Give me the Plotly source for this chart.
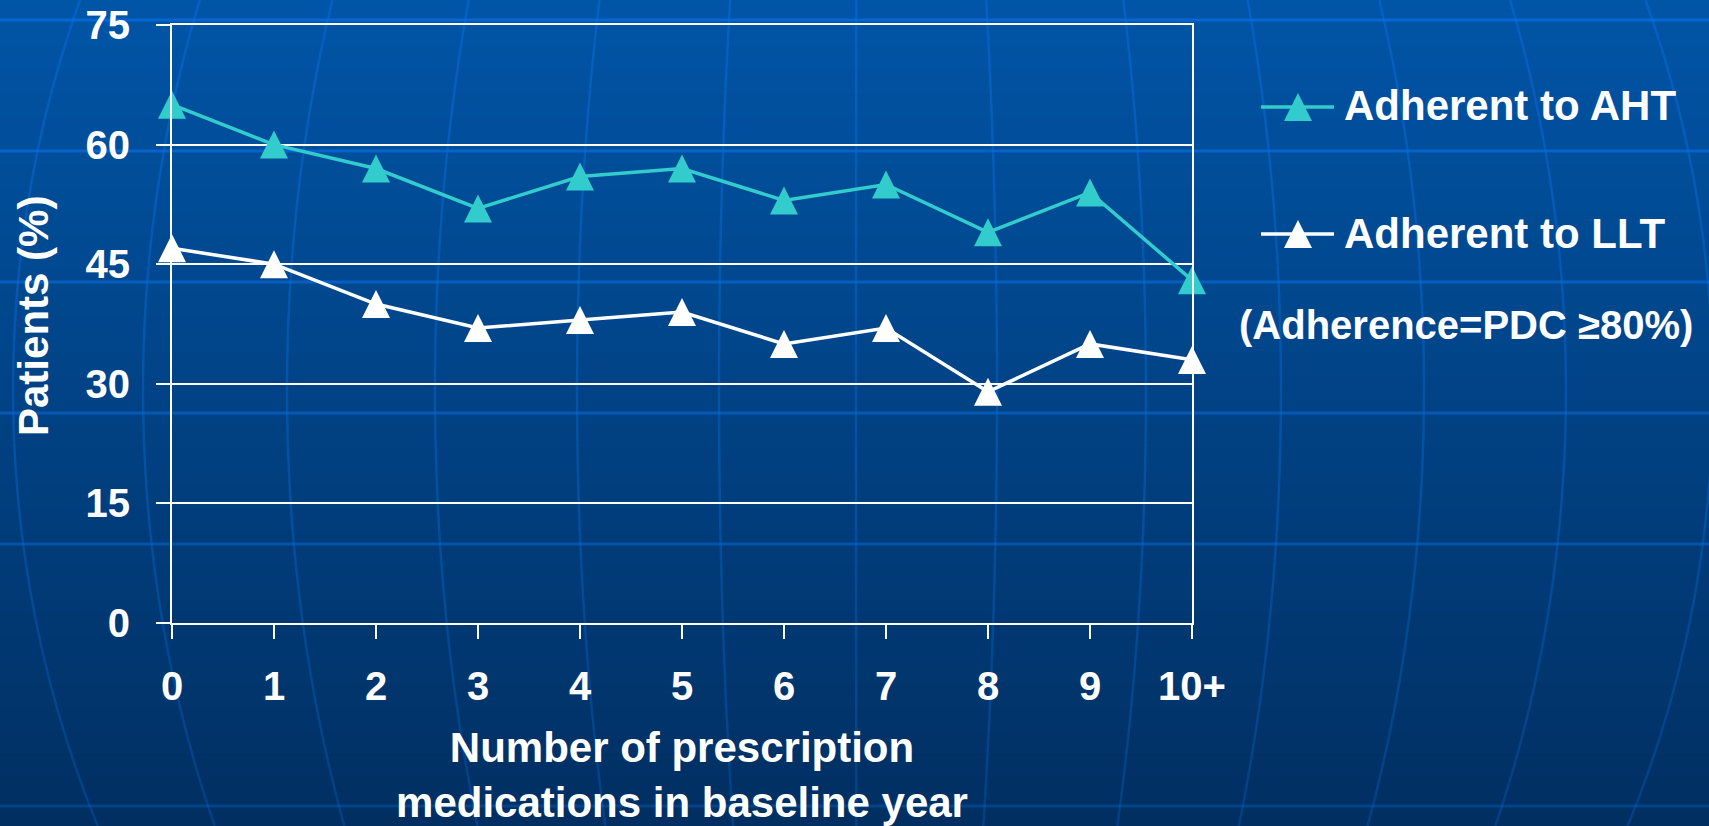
import numpy as np
import plotly.graph_objects as go

# ---- data -------------------------------------------------------------
categories = ["0", "1", "2", "3", "4", "5", "6", "7", "8", "9", "10+"]
adherent_aht = [65, 60, 57, 52, 56, 57, 53, 55, 49, 54, 43]
adherent_llt = [47, 45, 40, 37, 38, 39, 35, 37, 29, 35, 33]
y_tick_values = [0, 15, 30, 45, 60, 75]
series_names = ["Adherent to AHT", "Adherent to LLT"]
note_text = "(Adherence=PDC \u226580%)"
x_title = "Number of prescription<br>medications in baseline year"
y_title = "Patients (%)"

# ---- styling ----------------------------------------------------------
FONT = "Liberation Sans, Arial, sans-serif"
TEAL = "#33CCCC"
WHITE = "#FFFFFF"
W, H = 1709, 826
L, R, T, B = 172, 1192, 25, 623          # plot-area edges in pixels


def px(x):
    return (x - L) / (R - L)


def py(y):
    return (B - y) / (B - T)


shapes = []

# backdrop: vertical blue gradient built from thin bands
top_rgb = np.array([1, 85, 167])
bot_rgb = np.array([1, 47, 97])
n_bands = 70
edges = np.linspace(0, H, n_bands + 1)
for i in range(n_bands):
    f = (i + 0.5) / n_bands
    c = (top_rgb + (bot_rgb - top_rgb) * f).round().astype(int)
    shapes.append(dict(type="rect", xref="paper", yref="paper", layer="below",
                       x0=px(-2), x1=px(W + 2), y0=py(edges[i] - 1), y1=py(edges[i + 1] + 1),
                       line=dict(width=0), fillcolor=f"rgb({c[0]},{c[1]},{c[2]})"))

# backdrop: globe latitude lines
LINE_RGB = "10,110,225"
for yy in [20, 151, 282, 413, 544, 806]:
    a = 0.75 - 0.45 * yy / H
    shapes.append(dict(type="line", xref="paper", yref="paper", layer="below",
                       x0=px(0), x1=px(W), y0=py(yy), y1=py(yy),
                       line=dict(color=f"rgba({LINE_RGB},{a:.3f})", width=3)))

# backdrop: globe meridians, x = cx + s * sqrt(1 - ((y - cy) / ry)^2)
cx, cy, ry = 860.0, 390.0, 1000.0
spreads = [-847, -717, -573, -425, -283, -141, -4, 137, 286, 421, 564, 706, 853]
ys = np.linspace(0, H, 29)
for s in spreads:
    xs = cx + s * np.sqrt(1 - ((ys - cy) / ry) ** 2)
    for j in range(len(ys) - 1):
        ym = 0.5 * (ys[j] + ys[j + 1])
        a = 0.5 - 0.22 * ym / H
        shapes.append(dict(type="line", xref="paper", yref="paper", layer="below",
                           x0=px(xs[j]), x1=px(xs[j + 1]), y0=py(ys[j]), y1=py(ys[j + 1]),
                           line=dict(color=f"rgba({LINE_RGB},{a:.3f})", width=2.5)))

# ---- traces -----------------------------------------------------------
fig = go.Figure()
for name, vals, col in [(series_names[0], adherent_aht, TEAL),
                        (series_names[1], adherent_llt, WHITE)]:
    fig.add_trace(go.Scatter(
        x=categories, y=vals, name=name, mode="lines+markers", cliponaxis=False,
        line=dict(color=col, width=3.5),
        marker=dict(symbol="arrow-down", angle=180, standoff=14, size=28,
                    color=col, line=dict(width=0)),
        showlegend=False,
    ))

# ---- key (line + triangle + label) -----------------------------------
key_rows = [(series_names[0], TEAL, 107, 105.5), (series_names[1], WHITE, 234, 233.5)]
annotations = []
for name, col, ly, ty in key_rows:
    shapes.append(dict(type="line", xref="paper", yref="paper", layer="above",
                       x0=px(1261), x1=px(1334), y0=py(ly), y1=py(ly),
                       line=dict(color=col, width=3.5)))
    kx = 1298
    path = (f"M {px(kx - 14)} {py(ly + 14)} L {px(kx + 14)} {py(ly + 14)} "
            f"L {px(kx)} {py(ly - 14)} Z")
    shapes.append(dict(type="path", xref="paper", yref="paper", layer="above",
                       path=path, fillcolor=col, line=dict(width=0)))
    annotations.append(dict(text=name, xref="paper", yref="paper", x=px(1342), y=py(ty),
                            xanchor="left", yanchor="middle", showarrow=False,
                            font=dict(family=FONT, size=42, color=WHITE, weight="bold")))

annotations.append(dict(text=note_text, xref="paper", yref="paper", x=px(1466), y=py(324.5),
                        xanchor="center", yanchor="middle", showarrow=False,
                        font=dict(family=FONT, size=40, color=WHITE, weight="bold")))

axis_font = dict(family=FONT, size=40, color=WHITE, weight="bold")
title_font = dict(family=FONT, size=42, color=WHITE, weight="bold")

# vertical axis title
annotations.append(dict(text=y_title, xref="paper", yref="paper", x=px(33), y=py(316),
                        xanchor="center", yanchor="middle", textangle=-90, showarrow=False,
                        font=title_font))

fig.update_layout(
    width=W, height=H, autosize=False,
    margin=dict(l=L, r=W - R, t=T, b=H - B, pad=0),
    paper_bgcolor="rgb(1,47,97)",
    plot_bgcolor="rgba(0,0,0,0)",
    font=dict(family=FONT, color=WHITE),
    shapes=shapes,
    annotations=annotations,
    showlegend=False,
    xaxis=dict(
        type="category", range=[0, 10], categoryorder="array", categoryarray=categories,
        showline=True, linecolor=WHITE, linewidth=2, mirror=True,
        ticks="outside", ticklen=14, tickwidth=2, tickcolor=WHITE,
        showgrid=False, zeroline=False,
        tickfont=axis_font, ticklabelstandoff=13,
        title=dict(text=x_title, font=title_font, standoff=38),
        automargin=False,
    ),
    yaxis=dict(
        range=[0, 75], tickmode="array", tickvals=y_tick_values,
        showline=True, linecolor=WHITE, linewidth=2, mirror=True,
        ticks="outside", ticklen=14, tickwidth=2, tickcolor=WHITE,
        showgrid=True, gridcolor=WHITE, gridwidth=2, zeroline=False,
        tickfont=axis_font, ticklabelstandoff=18,
        automargin=False,
    ),
)

fig.write_html("out.html")
